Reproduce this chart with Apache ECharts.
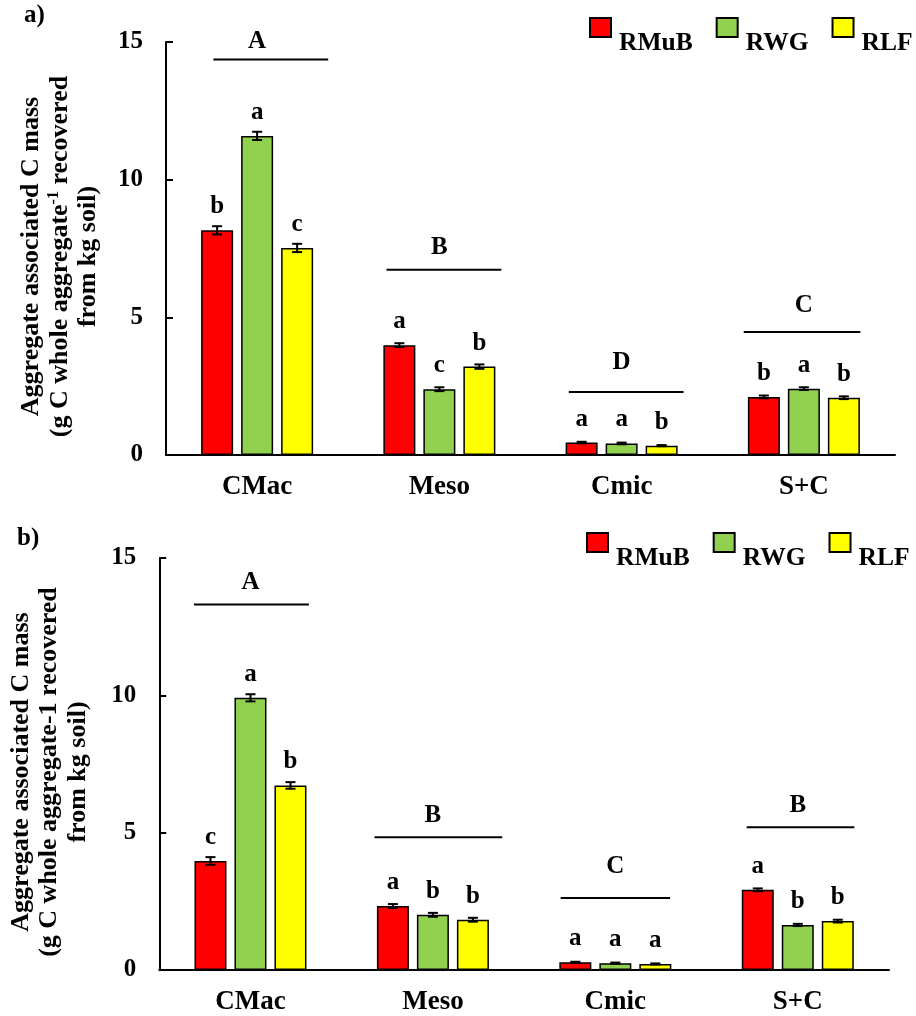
<!DOCTYPE html>
<html>
<head>
<meta charset="utf-8">
<script src="https://cdn.jsdelivr.net/npm/echarts@6/dist/echarts.min.js"></script>
<style>
  html, body { margin: 0; padding: 0; background: #fff; }
  #main { width: 916px; height: 1016px; }
</style>
</head>
<body>
<div id="main"></div>
<script>
// 类别与处理
const categories = ['CMac', 'Meso', 'Cmic', 'S+C']
const treatments = ['RMuB', 'RWG', 'RLF']
const barColors = ['#FF0000', '#92D050', '#FFFF00']

// a) 数据
const aRMuB = [8.16, 3.99, 0.45, 2.11]
const aRWG = [11.59, 2.39, 0.42, 2.41]
const aRLF = [7.52, 3.21, 0.34, 2.08]
const aErrRMuB = [0.15, 0.07, 0.03, 0.05]
const aErrRWG = [0.15, 0.07, 0.03, 0.05]
const aErrRLF = [0.15, 0.08, 0.02, 0.05]
const aLetRMuB = ['b', 'a', 'a', 'b']
const aLetRWG = ['a', 'c', 'a', 'a']
const aLetRLF = ['c', 'b', 'b', 'b']
const aGroupLetters = ['A', 'B', 'D', 'C']
const aGroupLine = [14.36, 6.73, 2.29, 4.47]
const aGroupText = [15.02, 7.53, 3.35, 5.42]
const aGroupFrom = [-0.24, -0.29, -0.29, -0.33]
const aGroupTo = [0.39, 0.34, 0.34, 0.31]

// b) 数据
const bRMuB = [3.97, 2.33, 0.28, 2.92]
const bRWG = [9.91, 2.01, 0.25, 1.64]
const bRLF = [6.72, 1.83, 0.22, 1.78]
const bErrRMuB = [0.14, 0.07, 0.02, 0.05]
const bErrRWG = [0.13, 0.07, 0.02, 0.04]
const bErrRLF = [0.12, 0.07, 0.02, 0.05]
const bLetRMuB = ['c', 'a', 'a', 'a']
const bLetRWG = ['a', 'b', 'a', 'b']
const bLetRLF = ['b', 'b', 'a', 'b']
const bGroupLetters = ['A', 'B', 'C', 'B']
const bGroupLine = [13.31, 4.83, 2.62, 5.2]
const bGroupText = [14.1, 5.63, 3.78, 6.0]
const bGroupFrom = [-0.31, -0.32, -0.3, -0.28]
const bGroupTo = [0.32, 0.38, 0.3, 0.31]

const FONT = "'Liberation Serif', 'Times New Roman', serif"
const BAR_W = 32
const BAR_STEP = 40

// 柱子
function barSeries(name, idx, values, letters, xi, yi) {
  return {
    name: name,
    type: 'bar',
    xAxisIndex: xi,
    yAxisIndex: yi,
    barWidth: BAR_W,
    barGap: '25%',
    data: values,
    itemStyle: { color: barColors[idx], borderColor: '#000', borderWidth: 1.5 },
    label: {
      show: true,
      position: 'top',
      distance: 11,
      formatter: p => letters[p.dataIndex],
      fontFamily: FONT,
      fontSize: 25,
      fontWeight: 'bold',
      color: '#000'
    },
    z: 2
  }
}

// 误差线
function errSeries(idx, values, errs, xi, yi) {
  return {
    name: 'err' + xi + idx,
    type: 'custom',
    xAxisIndex: xi,
    yAxisIndex: yi,
    data: values.map((v, i) => [i, v, errs[i]]),
    renderItem: function (params, api) {
      const c = api.value(0), v = api.value(1), e = api.value(2)
      const off = (idx - 1) * BAR_STEP
      const x = api.coord([c, v])[0] + off
      const hi = api.coord([c, v + e])[1]
      const lo = api.coord([c, v - e])[1]
      const st = { stroke: '#000', lineWidth: 2 }
      return {
        type: 'group',
        children: [
          { type: 'line', shape: { x1: x, y1: hi, x2: x, y2: lo }, style: st },
          { type: 'line', shape: { x1: x - 5, y1: hi, x2: x + 5, y2: hi }, style: st },
          { type: 'line', shape: { x1: x - 5, y1: lo, x2: x + 5, y2: lo }, style: st }
        ]
      }
    },
    z: 5,
    silent: true
  }
}

// 组间字母 + 横线
function groupSeries(letters, line, text, from, to, xi, yi) {
  return {
    name: 'grp' + xi,
    type: 'custom',
    xAxisIndex: xi,
    yAxisIndex: yi,
    data: letters.map((l, i) => [i + from[i], i + to[i], line[i], i, text[i]]),
    renderItem: function (params, api) {
      const p1 = api.coord([api.value(0), api.value(2)])
      const p2 = api.coord([api.value(1), api.value(2)])
      const pt = api.coord([api.value(3), api.value(4)])
      return {
        type: 'group',
        children: [
          { type: 'line', shape: { x1: p1[0], y1: p1[1], x2: p2[0], y2: p2[1] },
            style: { stroke: '#000', lineWidth: 2 } },
          { type: 'text', x: pt[0], y: pt[1],
            style: { text: letters[params.dataIndex], fill: '#000', font: 'bold 25px ' + FONT,
                     align: 'center', verticalAlign: 'middle' } }
        ]
      }
    },
    silent: true
  }
}

function yAxisFor(gi, name, gap) {
  return {
    type: 'value',
    gridIndex: gi,
    min: 0,
    max: 15,
    interval: 5,
    name: name,
    nameLocation: 'middle',
    nameRotate: 90,
    nameGap: gap,
    nameTextStyle: {
      padding: [0, 16, 0, 0],
      rich: {
        t: { fontFamily: FONT, fontSize: 26, fontWeight: 'bold', color: '#000', lineHeight: 28.5 },
        s: { fontFamily: FONT, fontSize: 16, fontWeight: 'bold', color: '#000', verticalAlign: 'top', lineHeight: 28.5 }
      }
    },
    axisLine: { show: true, onZero: false, lineStyle: { color: '#000', width: 2 } },
    axisTick: { show: true, inside: true, length: 7, lineStyle: { color: '#000', width: 2 } },
    axisLabel: { fontFamily: FONT, fontSize: 25, fontWeight: 'bold', color: '#000', margin: 23 },
    splitLine: { show: false }
  }
}

function catAxis(gi) {
  return {
    type: 'category',
    gridIndex: gi,
    data: categories,
    axisLine: { onZero: false, lineStyle: { color: '#000', width: 2 } },
    axisTick: { length: 8, lineStyle: { color: '#000', width: 2 } },
    axisLabel: { fontFamily: FONT, fontSize: 27, fontWeight: 'bold', color: '#000', margin: 19 }
  }
}

function valAxis(gi) {
  return {
    type: 'value', gridIndex: gi, min: -0.5, max: 3.5, show: false,
    axisLine: { show: false, onZero: false }, splitLine: { show: false }
  }
}

function legendAt(left, top) {
  return {
    data: treatments,
    left: left,
    top: top,
    width: 360,
    padding: 0,
    icon: 'rect',
    itemWidth: 21,
    itemHeight: 19,
    itemGap: 23,
    formatter: '{n|{name}}',
    textStyle: {
      rich: {
        n: { fontFamily: FONT, fontSize: 25.5, fontWeight: 'bold', color: '#000', padding: [31, 0, 0, 3] }
      }
    }
  }
}

const myChart = echarts.init(document.querySelector('#main'))

const option = {
  animation: false,
  textStyle: { fontFamily: FONT },
  title: [
    { text: 'a)', left: 24, top: 3, padding: 0, textStyle: { fontFamily: FONT, fontSize: 25, fontWeight: 'bold', color: '#000' } },
    { text: 'b)', left: 17, top: 526, padding: 0, textStyle: { fontFamily: FONT, fontSize: 25, fontWeight: 'bold', color: '#000' } }
  ],
  legend: [legendAt(589, 17), legendAt(586, 532)],
  grid: [
    { left: 166, top: 42, width: 729, height: 413 },
    { left: 158, top: 558, width: 731, height: 414 }
  ],
  xAxis: [catAxis(0), valAxis(0), catAxis(1), valAxis(1)],
  yAxis: [
    yAxisFor(0, '{t|Aggregate associated C mass}\n{t|(g C whole aggregate}{s|-1}{t| recovered}\n{t|from kg soil)}', 63),
    yAxisFor(1, '{t|Aggregate associated C mass}\n{t|(g C whole aggregate-1 recovered}\n{t|from kg soil)}', 67)
  ],
  series: [
    barSeries('RMuB', 0, aRMuB, aLetRMuB, 0, 0),
    barSeries('RWG', 1, aRWG, aLetRWG, 0, 0),
    barSeries('RLF', 2, aRLF, aLetRLF, 0, 0),
    errSeries(0, aRMuB, aErrRMuB, 0, 0),
    errSeries(1, aRWG, aErrRWG, 0, 0),
    errSeries(2, aRLF, aErrRLF, 0, 0),
    groupSeries(aGroupLetters, aGroupLine, aGroupText, aGroupFrom, aGroupTo, 1, 0),

    barSeries('RMuB', 0, bRMuB, bLetRMuB, 2, 1),
    barSeries('RWG', 1, bRWG, bLetRWG, 2, 1),
    barSeries('RLF', 2, bRLF, bLetRLF, 2, 1),
    errSeries(0, bRMuB, bErrRMuB, 2, 1),
    errSeries(1, bRWG, bErrRWG, 2, 1),
    errSeries(2, bRLF, bErrRLF, 2, 1),
    groupSeries(bGroupLetters, bGroupLine, bGroupText, bGroupFrom, bGroupTo, 3, 1)
  ]
}

myChart.setOption(option)
</script>
</body>
</html>
